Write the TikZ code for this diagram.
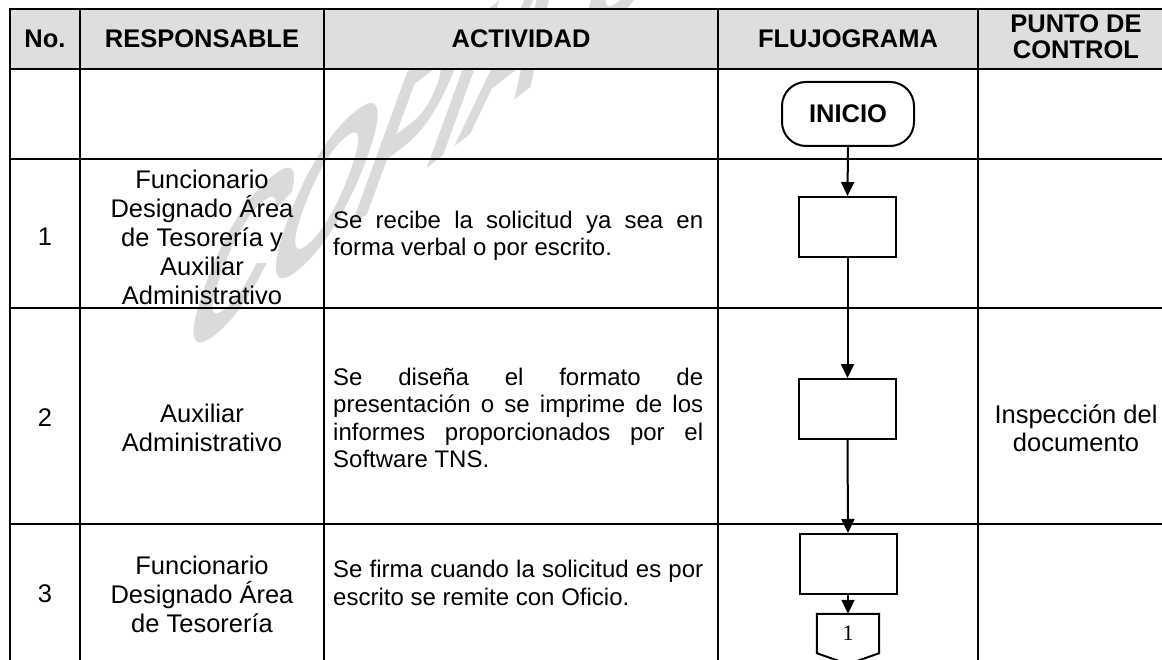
\documentclass[tikz,border=0pt]{standalone}
\usepackage{fontspec}
\setmainfont{Liberation Sans}
\newfontfamily\timesf{Liberation Serif}
\usetikzlibrary{arrows.meta,calc}
\definecolor{hdrgray}{RGB}{222,222,222}
\definecolor{wmgray}{RGB}{218,218,218}
\tikzset{
  gridline/.style={line width=2.4pt, black},
  hd/.style={font=\fontsize{25.5}{29}\selectfont\bfseries, inner sep=0pt},
  hdtwo/.style={font=\fontsize{25.5}{26}\selectfont\bfseries, inner sep=0pt, align=center},
  resp/.style={font=\fontsize{25.5}{29}\selectfont, inner sep=0pt, align=center},
  num/.style={font=\fontsize{25.5}{29}\selectfont, inner sep=0pt},
  act/.style={font=\fontsize{24}{27.5}\selectfont, inner sep=0pt, text width=370pt, align=justify, anchor=west},
  ctrl/.style={font=\fontsize{25.5}{28}\selectfont, inner sep=0pt, align=center},
  procbox/.style={draw, line width=2pt, minimum width=97pt, minimum height=60pt, inner sep=0pt},
  termbox/.style={draw, line width=2pt, minimum width=132pt, minimum height=64pt, rounded corners=24pt, inner sep=0pt, font=\fontsize{25.5}{29}\selectfont\bfseries},
  flow/.style={line width=2pt, -{Triangle[length=14pt,width=13pt]}},
  wm/.style={font=\fontsize{100}{100}\selectfont\bfseries, text=wmgray, inner sep=0pt, transform shape, anchor=base west}
}
\begin{document}
\begin{tikzpicture}[x=1pt,y=-1pt]
\useasboundingbox (0,0) rectangle (1162,660);
% watermark (sheared, rotated text)
\begin{scope}[cm={1.143,0.893,0.821,2.255,(172,368)}]
\node[wm] (wmark) at (0,0) {COPIA CONTROLADA};
\end{scope}
% header fill
\fill[hdrgray] (10,9) rectangle (1200,69);
% grid
\foreach \yy in {9,69,159,308,524} \draw[gridline] (9,\yy) -- (1200,\yy);
\foreach \xx in {10,80,324,718,978} \draw[gridline] (\xx,8) -- (\xx,670);
% header texts
\node[hd] (hno) at (45,39) {No.};
\node[hd] (hresp) at (202,39) {RESPONSABLE};
\node[hd] (hact) at (521,39) {ACTIVIDAD};
\node[hd] (hflu) at (848,39) {FLUJOGRAMA};
\node[hdtwo] (hpc) at (1076,37) {PUNTO DE\\CONTROL};
% numbers
\node[num] (n1) at (45,237) {1};
\node[num] (n2) at (45,418) {2};
\node[num] (n3) at (45,594) {3};
% responsables
\node[resp] (r1) at (202,237) {Funcionario\\Designado Área\\de Tesorería y\\Auxiliar\\Administrativo};
\node[resp] (r2) at (202,428) {Auxiliar\\Administrativo};
\node[resp] (r3) at (202,594) {Funcionario\\Designado Área\\de Tesorería};
% activities
\node[act] (a1) at (333,236) {Se recibe la solicitud ya sea en\linebreak forma verbal o por escrito.};
\node[act] (a2) at (333,418) {Se diseña el formato de\linebreak presentación o se imprime de los\linebreak informes proporcionados por el\linebreak Software TNS.};
\node[act] (a3) at (333,583) {Se firma cuando la solicitud es por\linebreak escrito se remite con Oficio.};
% control
\node[ctrl] (c2) at (1076,428) {Inspección del\\documento};
% flowchart
\node[termbox] (ini) at (848,114) {INICIO};
\node[procbox] (b1) at (847.5,227) {};
\node[procbox] (b2) at (847.5,409) {};
\node[procbox] (b3) at (848,564) {};
\node[inner sep=0pt, minimum width=62pt, minimum height=39pt, font=\timesf\fontsize{22}{24}\selectfont] (con) at (848,633.5) {\raisebox{-6pt}{1}};
\draw[line width=2pt] (con.north west) -- (con.north east) -- (con.south east) -- ($(con.south)+(0,11)$) -- (con.south west) -- cycle;
\draw[flow] (ini.south) -- (b1.north);
\draw[flow] (b1.south) -- (b2.north);
\draw[flow] (b2.south) -- (b3.north);
\draw[flow] (b3.south) -- (con.north);
\end{tikzpicture}
\end{document}
